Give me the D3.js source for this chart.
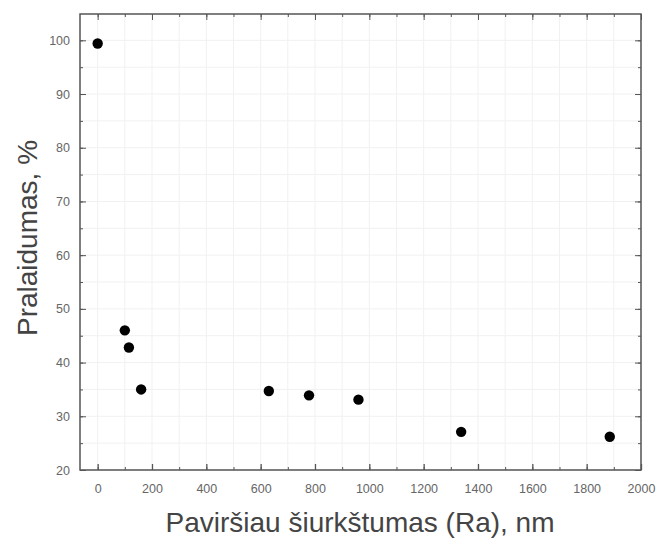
<!DOCTYPE html>
<html>
<head>
<meta charset="utf-8">
<title>Pralaidumas</title>
<script src="https://cdn.jsdelivr.net/npm/d3@7"></script>
<style>
body { margin: 0; background: #fff; }
.tick text { font-family: Arial, "Liberation Sans", sans-serif; font-size: 12.5px; fill: #666; }
.axis path, .axis line { stroke: #555; }
.grid line { stroke: #f1f1f1; stroke-width: 1; }
.title { font-family: Arial, "Liberation Sans", sans-serif; font-size: 28px; fill: #444; }
</style>
</head>
<body>
<script>
// roughness (Ra, nm) vs transmittance (%)
var roughness = [0, 100, 115, 160, 630, 778, 960, 1338, 1885];
var transmit  = [99.4, 46.0, 42.8, 35.0, 34.7, 33.9, 33.1, 27.1, 26.2];
var xTicks = [0, 200, 400, 600, 800, 1000, 1200, 1400, 1600, 1800, 2000];
var yTicks = [20, 30, 40, 50, 60, 70, 80, 90, 100];

var W = 663, H = 538;
var L = 80, T = 14, R = 641, B = 470;

var svg = d3.select("body").append("svg")
	.attr("width", W).attr("height", H);

var x = d3.scaleLinear().domain([-65, 2000]).range([L, R]);
var y = d3.scaleLinear().domain([20, 104.9]).range([B, T]);

var xMinor = d3.range(0, 2001, 100);
var yMinor = d3.range(20, 105, 5);

// faint grid
var grid = svg.append("g").attr("class", "grid");
grid.selectAll(".gx").data(xMinor).enter().append("line")
	.attr("x1", d => x(d)).attr("x2", d => x(d))
	.attr("y1", T).attr("y2", B);
grid.selectAll(".gy").data(yMinor).enter().append("line")
	.attr("x1", L).attr("x2", R)
	.attr("y1", d => y(d)).attr("y2", d => y(d));

// frame
svg.append("rect")
	.attr("x", L).attr("y", T).attr("width", R - L).attr("height", B - T)
	.attr("fill", "none").attr("stroke", "#555").attr("stroke-width", 1.5);

// inward ticks, majors with labels
function addAxis(axis, tf) {
	var g = svg.append("g").attr("class", "axis").attr("transform", tf).call(axis);
	g.select(".domain").remove();
	return g;
}
var fmt = d3.format("d");
addAxis(d3.axisBottom(x).tickValues(xMinor).tickSize(-3).tickFormat(""), "translate(0," + B + ")");
addAxis(d3.axisBottom(x).tickValues(xTicks).tickSize(-6).tickPadding(14).tickFormat(fmt), "translate(0," + B + ")")
	.selectAll(".tick line").attr("stroke-width", 1.3);
addAxis(d3.axisTop(x).tickValues(xMinor).tickSize(-3).tickFormat(""), "translate(0," + T + ")");
addAxis(d3.axisTop(x).tickValues(xTicks).tickSize(-6).tickFormat(""), "translate(0," + T + ")");
addAxis(d3.axisLeft(y).tickValues(yMinor).tickSize(-3).tickFormat(""), "translate(" + L + ",0)");
addAxis(d3.axisLeft(y).tickValues(yTicks).tickSize(-6).tickPadding(10).tickFormat(fmt), "translate(" + L + ",0)");
addAxis(d3.axisRight(y).tickValues(yMinor).tickSize(-3).tickFormat(""), "translate(" + R + ",0)");
addAxis(d3.axisRight(y).tickValues(yTicks).tickSize(-6).tickFormat(""), "translate(" + R + ",0)");

// points
svg.selectAll("circle.pt")
	.data(roughness)
	.enter()
	.append("circle")
	.attr("class", "pt")
	.attr("cx", d => x(d))
	.attr("cy", (d, i) => y(transmit[i]))
	.attr("r", 5.2)
	.attr("fill", "#000");

// axis titles
svg.append("text").attr("class", "title")
	.attr("x", 360).attr("y", 532)
	.attr("text-anchor", "middle")
	.text("Paviršiau šiurkštumas (Ra), nm");
svg.append("text").attr("class", "title")
	.attr("transform", "translate(37,238) rotate(-90)")
	.attr("text-anchor", "middle")
	.text("Pralaidumas, %");
</script>
</body>
</html>
